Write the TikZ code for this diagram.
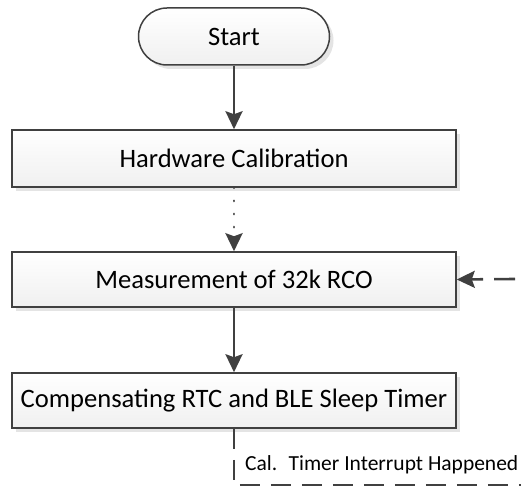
\documentclass[tikz,border=0pt]{standalone}
\usepackage{fontspec}
\setmainfont{Carlito}
\usetikzlibrary{arrows.meta,shadows}
\definecolor{ln}{HTML}{404040}
\definecolor{shd}{HTML}{E4E4E4}
\tikzset{
  procbox/.style={draw=ln, line width=1.5pt, top color=white, bottom color=black!6,
    minimum width=444pt, inner sep=0pt, font=\fontsize{26.6}{30}\selectfont,
    drop shadow={shadow xshift=4pt, shadow yshift=-4pt, fill=shd, opacity=1}},
  termbox/.style={procbox, rounded corners=28.5pt, minimum width=191pt, minimum height=57pt},
  flow/.style={draw=ln, line width=2.6pt, -{Stealth[length=18pt,width=17pt,inset=3pt]}},
  dotflow/.style={flow, line cap=round, line width=2.8pt, dash pattern=on 0.1pt off 13pt},
  loopline/.style={draw=ln, line width=2.6pt, dash pattern=on 20pt off 11pt},
  lbl/.style={font=\fontsize{21.5}{25}\selectfont, inner sep=0pt, anchor=west}
}
\begin{document}
\begin{tikzpicture}[x=1pt,y=1pt]
\useasboundingbox (0,0) rectangle (521,487);
\node[termbox] (start) at (234,450.5) {Start};
\node[procbox, minimum height=57pt] (hw) at (234,328.5) {Hardware Calibration};
\node[procbox, minimum height=55pt] (meas) at (234,207.5) {Measurement of 32k RCO};
\node[procbox, minimum height=55pt] (comp) at (234,86.5) {Compensating RTC and BLE Sleep Timer};
\node[lbl] (cal) at (245,22) {Cal.~ Timer Interrupt Happened};
\coordinate (corner) at (234,2);
\coordinate (brc) at (521,2);
\coordinate (rin) at (515,208);
\draw[flow] (start.south) -- (hw.north);
\draw[dotflow] (hw.south) -- (meas.north);
\draw[flow] (meas.south) -- (comp.north);
\draw[loopline] (comp.south) -- (corner) -- (brc);
\draw[flow, dash pattern=on 21pt off 11pt] (rin) -- (meas.east);
\end{tikzpicture}
\end{document}
